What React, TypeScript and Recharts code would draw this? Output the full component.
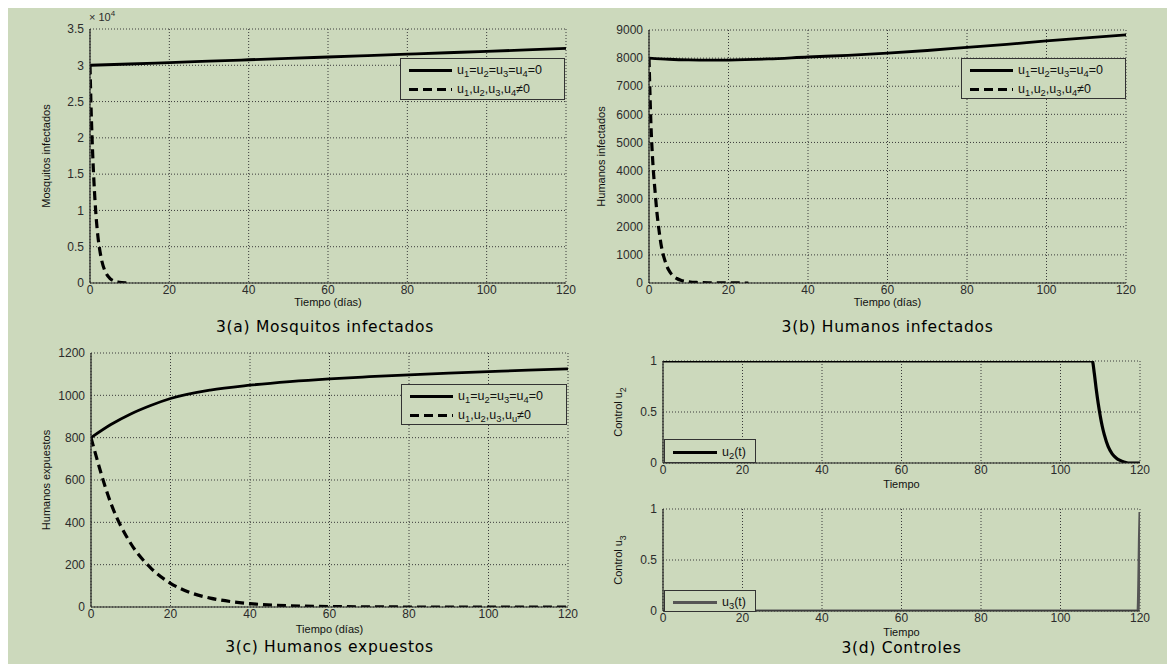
import React from 'react'
import { LineChart, Line, XAxis, YAxis, CartesianGrid, Legend } from 'recharts'

const BG = '#ccd9bc'
const INK = '#111'
const TICK_FONT = '"Liberation Sans", Arial, sans-serif'
const NARROW_FONT = '"Liberation Sans Narrow", "Liberation Sans", Arial, sans-serif'
const TITLE_FONT = '"DejaVu Sans", Verdana, sans-serif'

const timeTicks = [0, 20, 40, 60, 80, 100, 120]

// 3(a) mosquitos infectados
const mosqTime = [0, 10, 20, 30, 40, 50, 60, 70, 80, 90, 100, 110, 120]
const mosqNoControl = [30000, 30180, 30370, 30560, 30760, 30950, 31140, 31340, 31530, 31730, 31920, 32120, 32330]
const mosqCtrlTime = [0, 0.25, 0.5, 0.75, 1, 1.5, 2, 2.5, 3, 4, 5, 6, 7, 8, 9, 10]
const mosqControl = [30000, 24500, 20300, 16800, 13900, 9400, 6400, 4400, 3000, 1400, 650, 300, 140, 60, 25, 10]
const mosqTicks = [0, 5000, 10000, 15000, 20000, 25000, 30000, 35000]

// 3(b) humanos infectados
const humTime = [0, 5, 10, 15, 20, 30, 40, 50, 60, 70, 80, 90, 100, 110, 120]
const humNoControl = [8000, 7960, 7935, 7925, 7930, 7970, 8040, 8100, 8180, 8270, 8380, 8490, 8610, 8720, 8830]
const humCtrlTime = [0, 0.5, 1, 1.5, 2, 2.5, 3, 3.5, 4, 5, 6, 7, 8, 10, 12, 15, 20, 25]
const humControl = [8000, 5600, 4200, 3300, 2500, 1900, 1400, 1050, 800, 450, 260, 160, 100, 45, 20, 8, 3, 0]
const humTicks = [0, 1000, 2000, 3000, 4000, 5000, 6000, 7000, 8000, 9000]

// 3(c) humanos expuestos
const expTime = [0, 5, 10, 15, 20, 30, 40, 50, 60, 70, 80, 90, 100, 110, 120]
const expNoControl = [800, 862, 912, 952, 985, 1025, 1048, 1065, 1078, 1088, 1097, 1105, 1112, 1119, 1125]
const expCtrlTime = [0, 5, 10, 15, 20, 25, 30, 35, 40, 50, 60, 70, 80, 90, 100, 110, 120]
const expControl = [800, 490, 300, 185, 112, 68, 42, 26, 16, 6, 2, 1, 0, 0, 0, 0, 0]
const expTicks = [0, 200, 400, 600, 800, 1000, 1200]

// 3(d) controles
const u2Time = [0, 108, 108.5, 109, 109.5, 110, 110.5, 111, 112, 113, 114, 115, 116, 117, 120]
const u2Values = [1, 1, 0.88, 0.72, 0.58, 0.46, 0.36, 0.28, 0.16, 0.09, 0.05, 0.025, 0.01, 0, 0]
const u3Time = [0, 119.5, 119.7, 119.85, 120]
const u3Values = [0, 0, 0.3, 0.7, 0.97]
const controlTicks = [0, 0.5, 1]

const pairs = (ts: number[], vs: number[]) => ts.map((t, i) => ({ t, v: vs[i] }))

// "u_1=u_2" -> u with subscript 1 etc.
function Sub({ text, svg }: { text: string; svg?: boolean }) {
  const parts = text.split(/(_.)/).filter(Boolean)
  return (
    <>
      {parts.map((p, i) =>
        p.startsWith('_') ? (
          svg ? (
            <tspan key={i} baselineShift="sub" fontSize="0.8em">{p[1]}</tspan>
          ) : (
            <sub key={i} style={{ fontSize: '0.75em', verticalAlign: '-0.3em', lineHeight: 0 }}>{p[1]}</sub>
          )
        ) : svg ? (
          <tspan key={i}>{p}</tspan>
        ) : (
          <span key={i}>{p}</span>
        )
      )}
    </>
  )
}

type Series = { data: { t: number; v: number }[]; color: string; width: number; dash?: string }
type LegendRow = { label: string; color: string; width: number; dash?: string }
type Rect = { x: number; y: number; w: number; h: number }

const Y_W = 60
const M_TOP = 12
const M_RIGHT = 12
const X_H = 34

interface PanelProps {
  plot: Rect
  yTicks: number[]
  yFmt?: (v: number) => string
  series: Series[]
  yLabel: string
  yLabelX: number
  xLabel: string
  xLabelDy: number
  legend: LegendRow[]
  legendBox: Rect
  legendRowH: number
  legendTextX: number
}

function Panel(p: PanelProps) {
  const left = p.plot.x - Y_W
  const top = p.plot.y - M_TOP
  const width = Y_W + p.plot.w + M_RIGHT
  const height = M_TOP + p.plot.h + X_H
  const domain: [number, number] = [p.yTicks[0], p.yTicks[p.yTicks.length - 1]]

  const yLabelContent = () => {
    const x = p.yLabelX - left
    const y = M_TOP + p.plot.h / 2
    return (
      <text
        x={x}
        y={y}
        transform={`rotate(-90 ${x} ${y})`}
        textAnchor="middle"
        dominantBaseline="central"
        fontSize={11}
        fontFamily={NARROW_FONT}
        fill={INK}
      >
        <Sub text={p.yLabel} svg />
      </text>
    )
  }

  const xLabelContent = () => (
    <text
      x={Y_W + p.plot.w / 2}
      y={M_TOP + p.plot.h + p.xLabelDy}
      textAnchor="middle"
      dominantBaseline="central"
      fontSize={11}
      fontFamily={TICK_FONT}
      fill={INK}
    >
      {p.xLabel}
    </text>
  )

  const legendContent = () => (
    <div
      style={{
        width: p.legendBox.w,
        height: p.legendBox.h,
        boxSizing: 'border-box',
        border: '1px solid #333',
        background: BG,
        paddingTop: 2,
        fontFamily: TICK_FONT,
        fontSize: 12.5,
        color: INK,
      }}
    >
      {p.legend.map((r) => (
        <div key={r.label} style={{ position: 'relative', height: p.legendRowH }}>
          <svg width={p.legendTextX} height={p.legendRowH} style={{ position: 'absolute', left: 0, top: 0 }}>
            <line
              x1={8}
              x2={p.legendTextX - 5}
              y1={p.legendRowH / 2}
              y2={p.legendRowH / 2}
              stroke={r.color}
              strokeWidth={r.width}
              strokeDasharray={r.dash}
            />
          </svg>
          <span
            style={{
              position: 'absolute',
              left: p.legendTextX,
              top: 0,
              lineHeight: `${p.legendRowH}px`,
              whiteSpace: 'nowrap',
            }}
          >
            <Sub text={r.label} />
          </span>
        </div>
      ))}
    </div>
  )

  return (
    <div style={{ position: 'absolute', left, top }}>
      <LineChart width={width} height={height} margin={{ top: M_TOP, right: M_RIGHT, bottom: 0, left: 0 }}>
        <CartesianGrid stroke="#3a3a3a" strokeDasharray="1 2" strokeWidth={1} />
        <XAxis
          dataKey="t"
          type="number"
          domain={[0, 120]}
          ticks={timeTicks}
          interval={0}
          height={X_H}
          tickSize={0}
          tickMargin={2}
          axisLine={{ stroke: '#222', strokeWidth: 1.2 }}
          tick={{ fontSize: 12, fill: '#2b2b2b', fontFamily: TICK_FONT }}
          label={xLabelContent}
          allowDataOverflow
        />
        <XAxis
          xAxisId="top"
          orientation="top"
          type="number"
          domain={[0, 120]}
          height={0}
          tick={false}
          tickLine={false}
          axisLine={{ stroke: '#222', strokeWidth: 1.2 }}
        />
        <YAxis
          type="number"
          domain={domain}
          ticks={p.yTicks}
          interval={0}
          width={Y_W}
          tickSize={0}
          tickMargin={6}
          tickFormatter={p.yFmt}
          axisLine={{ stroke: '#222', strokeWidth: 1.2 }}
          tick={{ fontSize: 12, fill: '#2b2b2b', fontFamily: TICK_FONT }}
          label={yLabelContent}
          allowDataOverflow
        />
        <YAxis
          yAxisId="right"
          orientation="right"
          type="number"
          domain={domain}
          width={0}
          tick={false}
          tickLine={false}
          axisLine={{ stroke: '#222', strokeWidth: 1.2 }}
        />
        {p.series.map((s, i) => (
          <Line
            key={i}
            data={s.data}
            dataKey="v"
            type="monotone"
            dot={false}
            activeDot={false}
            stroke={s.color}
            strokeWidth={s.width}
            strokeDasharray={s.dash}
            isAnimationActive={false}
          />
        ))}
        <Legend
          layout="vertical"
          align="center"
          verticalAlign="middle"
          content={legendContent}
          wrapperStyle={{ left: p.legendBox.x - left, top: p.legendBox.y - top, width: 'auto', height: 'auto' }}
        />
      </LineChart>
    </div>
  )
}

function Title({ text, cx, top }: { text: string; cx: number; top: number }) {
  return (
    <div
      style={{
        position: 'absolute',
        left: cx - 200,
        top,
        width: 400,
        textAlign: 'center',
        fontFamily: TITLE_FONT,
        fontSize: 15.5,
        letterSpacing: 0.7,
        lineHeight: '16px',
        color: '#000',
      }}
    >
      {text}
    </div>
  )
}

const noCtrlRow = { label: 'u_1=u_2=u_3=u_4=0', color: '#000', width: 2.8 }

export default function App() {
  const plotA = { x: 90, y: 29, w: 476, h: 254 }
  const plotB = { x: 649, y: 30, w: 477, h: 253 }
  const plotC = { x: 91, y: 353, w: 477, h: 254 }
  const plotD1 = { x: 663, y: 361, w: 477, h: 102 }
  const plotD2 = { x: 663, y: 509, w: 477, h: 102 }

  return (
    <div style={{ position: 'absolute', left: 0, top: 0, width: 1175, height: 664, background: '#fff', overflow: 'hidden' }}>
      <div style={{ position: 'absolute', left: 8, top: 8, width: 1159, height: 656, background: BG }} />

      <Panel
        plot={plotA}
        yTicks={mosqTicks}
        yFmt={(v) => String(v / 10000)}
        series={[
          { data: pairs(mosqTime, mosqNoControl), color: '#000', width: 2.8 },
          { data: pairs(mosqCtrlTime, mosqControl), color: '#000', width: 3.2, dash: '9 5' },
        ]}
        yLabel="Mosquitos infectados"
        yLabelX={46}
        xLabel="Tiempo (días)"
        xLabelDy={19}
        legend={[noCtrlRow, { label: 'u_1,u_2,u_3,u_4≠0', color: '#000', width: 3.2, dash: '9 5' }]}
        legendBox={{ x: 400, y: 58, w: 165, h: 42 }}
        legendRowH={19}
        legendTextX={56}
      />
      <div
        style={{ position: 'absolute', left: 89, top: 11, fontFamily: TICK_FONT, fontSize: 11, color: '#2b2b2b', lineHeight: '13px' }}
      >
        × 10<sup style={{ fontSize: 8, verticalAlign: '0.6em', lineHeight: 0 }}>4</sup>
      </div>
      <Title text="3(a) Mosquitos infectados" cx={plotA.x + plotA.w / 2 - 3} top={319} />

      <Panel
        plot={plotB}
        yTicks={humTicks}
        series={[
          { data: pairs(humTime, humNoControl), color: '#000', width: 2.8 },
          { data: pairs(humCtrlTime, humControl), color: '#000', width: 3.2, dash: '9 5' },
        ]}
        yLabel="Humanos infectados"
        yLabelX={601}
        xLabel="Tiempo (días)"
        xLabelDy={19}
        legend={[noCtrlRow, { label: 'u_1,u_2,u_3,u_4≠0', color: '#000', width: 3.2, dash: '9 5' }]}
        legendBox={{ x: 961, y: 58, w: 165, h: 41 }}
        legendRowH={19}
        legendTextX={56}
      />
      <Title text="3(b) Humanos infectados" cx={plotB.x + plotB.w / 2} top={319} />

      <Panel
        plot={plotC}
        yTicks={expTicks}
        series={[
          { data: pairs(expTime, expNoControl), color: '#000', width: 2.8 },
          { data: pairs(expCtrlTime, expControl), color: '#000', width: 3.2, dash: '9 5' },
        ]}
        yLabel="Humanos expuestos"
        yLabelX={46}
        xLabel="Tiempo (días)"
        xLabelDy={22}
        legend={[noCtrlRow, { label: 'u_1,u_2,u_3,u_u≠0', color: '#000', width: 3.2, dash: '9 5' }]}
        legendBox={{ x: 401, y: 384, w: 166, h: 41 }}
        legendRowH={19}
        legendTextX={56}
      />
      <Title text="3(c) Humanos expuestos" cx={plotC.x + plotC.w / 2} top={639} />

      <Panel
        plot={plotD1}
        yTicks={controlTicks}
        series={[{ data: pairs(u2Time, u2Values), color: '#000', width: 3.2 }]}
        yLabel="Control u_2"
        yLabelX={618}
        xLabel="Tiempo"
        xLabelDy={21}
        legend={[{ label: 'u_2(t)', color: '#000', width: 3 }]}
        legendBox={{ x: 664, y: 439, w: 92, h: 24 }}
        legendRowH={21}
        legendTextX={57}
      />
      <Panel
        plot={plotD2}
        yTicks={controlTicks}
        series={[{ data: pairs(u3Time, u3Values), color: '#555', width: 3 }]}
        yLabel="Control u_3"
        yLabelX={618}
        xLabel="Tiempo"
        xLabelDy={21}
        legend={[{ label: 'u_3(t)', color: '#555', width: 3 }]}
        legendBox={{ x: 664, y: 590, w: 92, h: 22 }}
        legendRowH={19}
        legendTextX={57}
      />
      <Title text="3(d) Controles" cx={plotD1.x + plotD1.w / 2} top={640} />
    </div>
  )
}
